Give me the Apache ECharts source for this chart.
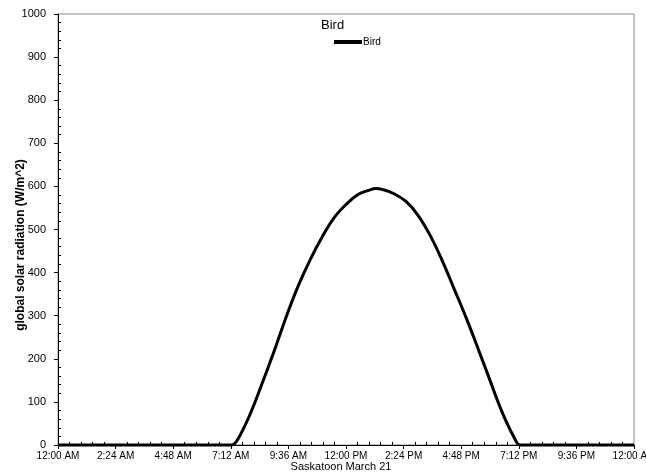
<!DOCTYPE html>
<html>
<head>
<meta charset="utf-8">
<script src="https://cdn.jsdelivr.net/npm/echarts@6/dist/echarts.min.js"></script>
<style>html,body{margin:0;padding:0;background:#fff}#c{width:646px;height:473px}</style>
</head>
<body>
<div id="c"></div>
<script>
// Data: hour of day and global solar radiation (W/m^2)
var hours = [0, 6.5, 7.0, 7.25, 7.5, 8.0, 8.5, 9.0, 9.5, 10.0, 10.5, 11.0, 11.5, 12.0, 12.5, 13.0, 13.25, 13.5, 14.0, 14.5, 15.0, 15.5, 16.0, 16.5, 17.0, 17.5, 18.0, 18.5, 19.0, 19.25, 19.5, 20, 24];
var radiation = [0, 0, 0, 0, 14, 71, 142, 217, 296, 368, 429, 482, 527, 558, 581, 592, 595, 593, 583, 565, 533, 487, 429, 363, 296, 224, 150, 77, 18, 0, 0, 0, 0];
var xTickLabels = ['12:00 AM', '2:24 AM', '4:48 AM', '7:12 AM', '9:36 AM', '12:00 PM', '2:24 PM', '4:48 PM', '7:12 PM', '9:36 PM', '12:00 AM'];
var seriesName = 'Bird';
var titleText = 'Bird';
var xAxisName = 'Saskatoon March 21';
var yAxisName = 'global solar radiation (W/m^2)';

var font = 'Liberation Sans, Arial, sans-serif';
var chart = echarts.init(document.getElementById('c'));
var pts = hours.map(function (h, i) { return [h, radiation[i]]; });

var xBase = {
  type: 'value', min: 0, max: 24, interval: 2.4,
  splitLine: { show: false }
};
var yBase = {
  type: 'value', min: 0, max: 1000, interval: 100,
  splitLine: { show: false }
};

chart.setOption({
  animation: false,
  backgroundColor: '#fff',
  title: {
    text: titleText, left: 316, top: 14,
    textStyle: { fontFamily: font, fontSize: 13, fontWeight: 'normal', color: '#000' }
  },
  legend: {
    data: [{ name: seriesName, icon: 'rect' }], left: 334, top: 37, padding: 0,
    itemWidth: 28, itemHeight: 4, itemGap: 5,
    itemStyle: { color: '#000' },
    textStyle: { fontFamily: font, fontSize: 10, color: '#000', padding: [0, 0, 0, -4] }
  },
  grid: {
    left: 58, right: 12, top: 14, bottom: 28,
    containLabel: false, outerBoundsMode: 'none',
    show: true, borderColor: '#888', borderWidth: 1, backgroundColor: 'transparent'
  },
  xAxis: [
    Object.assign({}, xBase, {
      position: 'bottom',
      axisLine: { show: true, lineStyle: { color: '#000', width: 1 } },
      axisTick: { show: true, length: 4, inside: false, lineStyle: { color: '#000' } },
      minorTick: { show: false },
      axisLabel: {
        showMinLabel: true, showMaxLabel: true, margin: 6, hideOverlap: false,
        fontFamily: font, fontSize: 10, color: '#000',
        formatter: function (v) { return xTickLabels[Math.round(v / 2.4)]; }
      },
      name: xAxisName, nameLocation: 'middle', nameGap: 16, nameMoveOverlap: false,
      nameTextStyle: { fontFamily: font, fontSize: 11, color: '#000', padding: [0, 0, 0, -10] }
    }),
    Object.assign({}, xBase, {
      position: 'bottom',
      axisLine: { show: false },
      axisTick: { show: false, inside: true },
      minorTick: { show: true, splitNumber: 5, length: 3, lineStyle: { color: '#000' } },
      axisLabel: { show: false }
    })
  ],
  yAxis: [
    Object.assign({}, yBase, {
      position: 'left',
      axisLine: { show: true, lineStyle: { color: '#000', width: 1 } },
      axisTick: { show: true, length: 4, inside: false, lineStyle: { color: '#000' } },
      minorTick: { show: false },
      axisLabel: {
        margin: 12, fontFamily: font, fontSize: 11, color: '#000',
        formatter: function (v) { return String(v); }
      }
    }),
    Object.assign({}, yBase, {
      position: 'left',
      axisLine: { show: false },
      axisTick: { show: false, inside: true },
      minorTick: { show: true, splitNumber: 5, length: 3, lineStyle: { color: '#000' } },
      axisLabel: { show: false }
    })
  ],
  graphic: [{
    type: 'text', x: 21, y: 245, rotation: Math.PI / 2,
    style: {
      text: yAxisName, fill: '#000',
      font: 'bold 12px ' + font, textAlign: 'center', textVerticalAlign: 'middle'
    }
  }],
  series: [{
    name: seriesName, type: 'line', data: pts,
    xAxisIndex: 0, yAxisIndex: 0,
    smooth: 0.4, symbol: 'none', clip: false,
    lineStyle: { color: '#000', width: 3 },
    itemStyle: { color: '#000' }
  }]
});
</script>
</body>
</html>
